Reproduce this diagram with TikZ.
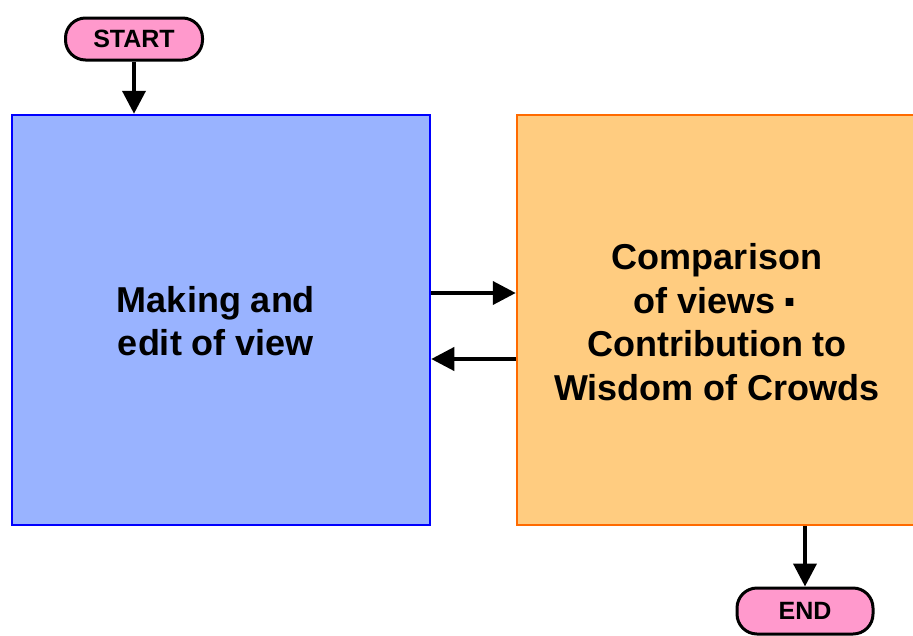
\documentclass[tikz,border=0pt]{standalone}
\usepackage{fontspec}
\setmainfont{Liberation Sans}
\usetikzlibrary{arrows.meta}
\definecolor{boxblue}{HTML}{99B3FF}
\definecolor{lineblue}{HTML}{0000FF}
\definecolor{boxorange}{HTML}{FFCC80}
\definecolor{lineorange}{HTML}{FF6A00}
\definecolor{pillpink}{HTML}{FF99CC}
\begin{document}
\begin{tikzpicture}[x=1pt,y=-1pt,
  stepbox/.style={draw, line width=2.5pt, inner sep=0pt},
  boxtext/.style={align=center, inner sep=0pt,
    font=\bfseries\fontsize{36}{43.5}\selectfont},
  pill/.style={draw=black, fill=pillpink, line width=3pt, rounded corners=20pt,
    minimum width=137pt, minimum height=42pt, inner sep=0pt,
    font=\bfseries\fontsize{25}{30}\selectfont},
  flow/.style={line width=4pt, -{Triangle[length=23pt,width=23pt]}}]
\useasboundingbox (0,0) rectangle (913,635);
\begin{scope}
\clip (0,0) rectangle (913,635);
% process boxes
\node[stepbox, draw=lineblue, fill=boxblue, minimum width=418pt, minimum height=410pt]
  (make) at (221,320) {};
\node[boxtext] (maketext) at (216,321) {Making and\\edit of view};
\node[stepbox, draw=lineorange, fill=boxorange, minimum width=420pt, minimum height=410pt]
  (comp) at (727,320) {};
\node[boxtext] (comptext) at (717,322)
  {Comparison\\of views\,\raisebox{-7pt}{\scalebox{1.5}{·}}\\Contribution to\\Wisdom of Crowds};
% terminals
\node[pill] (start) at (134,39) {START};
\node[pill, minimum height=46pt, minimum width=136pt] (end) at (805,611) {END};
% connectors
\draw[flow] (start.south) -- (start.south |- make.north);
\draw[flow] ([yshift=27pt]make.east) -- ([yshift=27pt]comp.west);
\draw[flow] ([yshift=-39pt]comp.west) -- ([yshift=-39pt]make.east);
\draw[flow] (end.north |- comp.south) -- (end.north);
\end{scope}
\end{tikzpicture}
\end{document}
